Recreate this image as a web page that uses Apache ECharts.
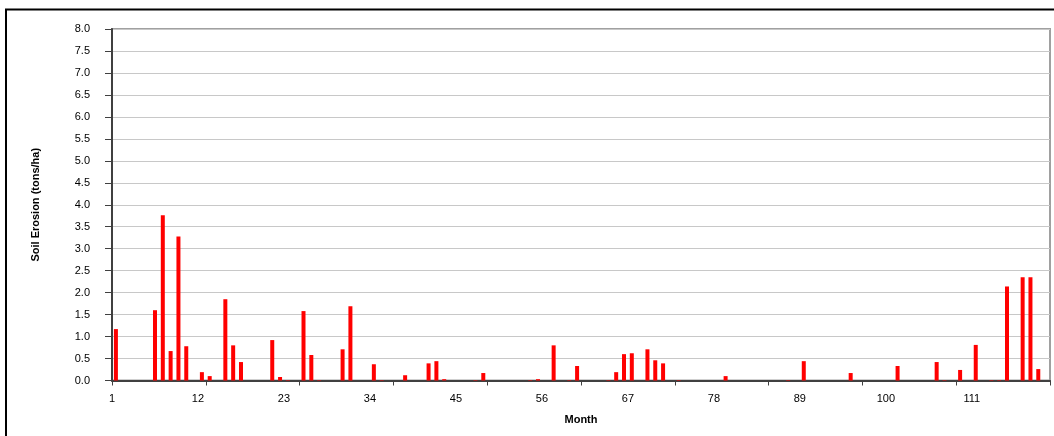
<!DOCTYPE html>
<html>
<head>
<meta charset="utf-8">
<script src="https://cdn.jsdelivr.net/npm/echarts@6/dist/echarts.min.js"></script>
<style>
html,body{margin:0;padding:0;background:#fff;}
#chart{width:1054px;height:436px;}
</style>
</head>
<body>
<div id="chart"></div>
<script>
// Month numbers (categories)
var months = [];
for (var m = 1; m <= 120; m++) months.push(m);

// Soil erosion (tons/ha) per month, one row per 12 months
var erosion = [
  1.17, 0, 0, 0, 0, 1.60, 3.76, 0.67, 3.28, 0.78, 0, 0.19,
  0.10, 0, 1.85, 0.80, 0.42, 0, 0, 0, 0.92, 0.08, 0.01, 0,
  1.58, 0.58, 0.01, 0, 0, 0.71, 1.69, 0, 0, 0.37, 0.01, 0,
  0, 0.12, 0, 0, 0.39, 0.44, 0.03, 0, 0, 0, 0.01, 0.17,
  0, 0, 0, 0, 0, 0.01, 0.03, 0, 0.80, 0, 0.01, 0.33,
  0, 0, 0, 0.01, 0.19, 0.60, 0.62, 0, 0.71, 0.46, 0.39, 0,
  0.01, 0, 0, 0, 0, 0, 0.10, 0, 0, 0, 0, 0,
  0, 0, 0.01, 0, 0.44, 0, 0, 0, 0, 0, 0.17, 0,
  0, 0, 0, 0, 0.33, 0, 0, 0, 0, 0.42, 0.01, 0,
  0.24, 0, 0.81, 0, 0.01, 0.01, 2.14, 0, 2.35, 2.35, 0.26, 0
];

// Axis settings
var yMin = 0, yMax = 8, yStep = 0.5;
var labelEvery = 11;   // x labels: 1, 12, 23, ...
var tickEvery = 12;    // x ticks every 12 months
var yTitle = 'Soil Erosion (tons/ha)';
var xTitle = 'Month';

var font = 'Arial, "Liberation Sans", sans-serif';
var chart = echarts.init(document.getElementById('chart'), null, {renderer: 'canvas'});
chart.setOption({
  animation: false,
  backgroundColor: '#fff',
  grid: {
    left: 112, right: 4, top: 29, bottom: 55.5,
    show: true, borderColor: '#a0a0a0', borderWidth: 2, backgroundColor: 'transparent'
  },
  graphic: [{
    type: 'rect', silent: true,
    shape: {x: 6, y: 9.5, width: 1200, height: 600},
    style: {fill: 'none', stroke: '#000', lineWidth: 2}
  }],
  xAxis: [{
    type: 'category',
    data: months,
    boundaryGap: true,
    axisLine: {lineStyle: {color: '#404040', width: 2}},
    axisTick: {show: true, interval: tickEvery - 1, length: 5, lineStyle: {color: '#404040', width: 1}},
    axisLabel: {show: false},
    splitLine: {show: false}
  }, {
    type: 'value',
    position: 'bottom',
    min: 0, max: months.length, interval: labelEvery,
    axisLine: {show: false},
    axisTick: {show: false},
    splitLine: {show: false},
    axisLabel: {
      show: true, margin: 13, fontSize: 11, color: '#000', fontFamily: font,
      showMaxLabel: false,
      formatter: function (v) { return (v % labelEvery === 0 && v < months.length) ? String(v + 1) : ''; }
    },
    name: xTitle,
    nameLocation: 'middle',
    nameGap: 34,
    nameTextStyle: {fontSize: 11, fontWeight: 'bold', color: '#000', fontFamily: font}
  }],
  yAxis: {
    type: 'value',
    min: yMin, max: yMax, interval: yStep,
    axisLine: {show: true, lineStyle: {color: '#404040', width: 2}},
    axisTick: {show: true, length: 7, lineStyle: {color: '#404040', width: 1}},
    axisLabel: {
      margin: 22, fontSize: 11, color: '#000', fontFamily: font,
      formatter: function (v) { return v.toFixed(1); }
    },
    splitLine: {show: true, lineStyle: {color: '#c8c8c8', width: 1}},
    name: yTitle,
    nameLocation: 'middle',
    nameGap: 71,
    nameTextStyle: {fontSize: 11, fontWeight: 'bold', color: '#000', fontFamily: font}
  },
  series: [{
    type: 'bar',
    xAxisIndex: 0,
    data: erosion,
    barWidth: 4,
    itemStyle: {color: '#ff0000'}
  }]
});
</script>
</body>
</html>
